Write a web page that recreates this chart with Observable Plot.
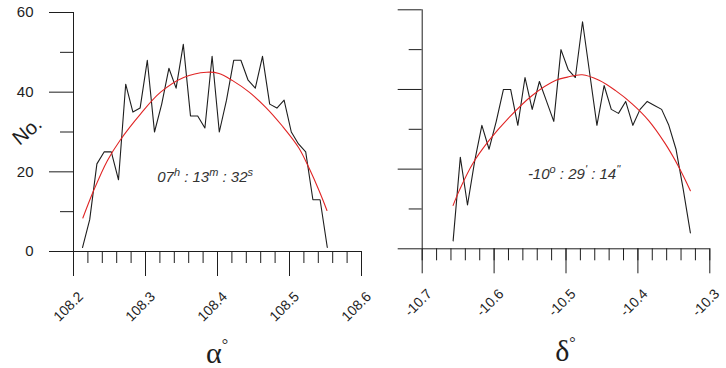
<!DOCTYPE html>
<html>
<head>
<meta charset="utf-8">
<script src="https://cdn.jsdelivr.net/npm/d3@7"></script>
<script src="https://cdn.jsdelivr.net/npm/@observablehq/plot@0.6"></script>
<style>
html, body { margin: 0; padding: 0; background: #fff; }
#chart { position: relative; width: 726px; height: 368px; overflow: hidden; font-family: "Liberation Sans", Arial, sans-serif; }
#chart svg { position: absolute; top: 0; overflow: visible; }
</style>
</head>
<body>
<div id="chart"></div>
<script>
// ---- Right ascension panel (alpha) ----
const raX = [108.2125, 108.2225, 108.2325, 108.2425, 108.2525, 108.2625, 108.2725, 108.2825, 108.2925, 108.3025,
             108.3125, 108.3225, 108.3325, 108.3425, 108.3525, 108.3625, 108.3725, 108.3825, 108.3925, 108.4025,
             108.4125, 108.4225, 108.4325, 108.4425, 108.4525, 108.4625, 108.4725, 108.4825, 108.4925, 108.5025,
             108.5125, 108.5225, 108.5325, 108.5425, 108.5525];
const raCounts = [1, 8, 22, 25, 25, 18, 42, 35, 36, 48,
                  30, 37, 46, 41, 52, 34, 34, 31, 49, 30,
                  38, 48, 48, 43, 41, 49, 37, 36, 38, 30,
                  27, 25, 13, 13, 1];
const raFitX = [108.213, 108.228, 108.247, 108.265, 108.293, 108.321, 108.353, 108.385, 108.402,
                108.421, 108.444, 108.467, 108.490, 108.513, 108.527, 108.541, 108.552];
const raFitY = [8.4, 15.3, 22.8, 28.0, 34.5, 40.0, 43.7, 45.0, 44.7,
                42.9, 40.0, 36.2, 31.5, 26.0, 21.0, 15.3, 10.3];
const raMajor = [108.2, 108.3, 108.4, 108.5, 108.6];
const raMinor = [108.2, 108.22, 108.24, 108.26, 108.28, 108.3, 108.32, 108.34, 108.36, 108.38, 108.4,
                 108.42, 108.44, 108.46, 108.48, 108.5, 108.52, 108.54, 108.56, 108.58, 108.6];
const raTickLabels = ["108.2", "108.3", "108.4", "108.5", "108.6"];

// ---- Declination panel (delta) ----
const decX = [-10.657, -10.647, -10.637, -10.627, -10.617, -10.607, -10.597, -10.587, -10.577, -10.567,
              -10.557, -10.547, -10.537, -10.527, -10.517, -10.507, -10.497, -10.487, -10.477, -10.467,
              -10.457, -10.447, -10.437, -10.427, -10.417, -10.407, -10.397, -10.387, -10.377, -10.367,
              -10.357, -10.347, -10.337, -10.327];
const decCounts = [2, 23, 11, 22, 31, 25, 32, 40, 40, 31,
                   43, 35, 42, 37, 32, 50, 45, 43, 57, 44,
                   31, 41, 35, 34, 37, 31, 35, 37, 36, 35,
                   31, 25, 15, 4];
const decFitX = [-10.657, -10.6485, -10.630, -10.607, -10.579, -10.547, -10.514, -10.498,
                 -10.4775, -10.454, -10.431, -10.408, -10.385, -10.362, -10.343, -10.327];
const decFitY = [10.9, 14.6, 21.3, 27.2, 33.0, 38.5, 42.3, 43.1,
                 43.7, 42.3, 39.7, 36.4, 32.2, 26.4, 20.5, 14.6];
const decMajor = [-10.7, -10.6, -10.5, -10.4, -10.3];
const decMinor = [-10.7, -10.68, -10.66, -10.64, -10.62, -10.6, -10.58, -10.56, -10.54, -10.52, -10.5,
                  -10.48, -10.46, -10.44, -10.42, -10.4, -10.38, -10.36, -10.34, -10.32, -10.3];
const decTickLabels = ["-10.7", "-10.6", "-10.5", "-10.4", "-10.3"];

// ---- shared y axis ----
const yMajor = [0, 20, 40, 60];
const yMinor = [10, 30, 50];
const yTickLabels = ["0", "20", "40", "60"];

// annotations
const raNote = {x: 108.3835, y: 17.3, parts: [["07", 0], ["h", 1], [" : 13", 0], ["m", 1], [" : 32", 0], ["s", 1]]};
const decNote = {x: -10.488, y: 17.3, parts: [["-10", 0], ["o", 1], [" : 29", 0], ["'", 1], [" : 14", 0], ["''", 1]]};

const root = document.getElementById("chart");
const ink = "#1e1e1e";

function panel(o) {
  const chart = Plot.plot({
    width: 363, height: 368,
    marginLeft: o.ml, marginRight: o.mr, marginTop: o.mt, marginBottom: o.mb,
    x: {domain: o.domain},
    y: {domain: [0, 60]},
    style: {fontFamily: "'Liberation Sans', Arial, sans-serif", color: ink, background: "transparent", overflow: "visible"},
    marks: [
      Plot.ruleX([o.domain[0]], {stroke: ink}),
      Plot.ruleY([0], {stroke: ink}),
      Plot.axisY({ticks: yMinor, tickSize: 13, fill: "none", label: null, stroke: ink}),
      Plot.axisY({ticks: yMajor, tickSize: 24, fill: "none", label: null, stroke: ink}),
      Plot.axisX({ticks: o.minor, tickSize: 12, fill: "none", label: null, stroke: ink}),
      Plot.axisX({ticks: o.major, tickSize: 25, fill: "none", label: null, stroke: ink}),
      o.yLabels ? Plot.text(yMajor, {y: d => d, text: (d, i) => yTickLabels[i], frameAnchor: "left",
                                     textAnchor: "end", dx: -40, fontSize: 15, fill: ink}) : null,
      Plot.text(o.major, {x: d => d, text: (d, i) => o.labels[i], frameAnchor: "bottom", textAnchor: "end",
                          lineAnchor: "bottom", rotate: -45, dx: 10.5, dy: 46, fontSize: 14, fill: ink}),
      Plot.line(o.counts, {x: (d, i) => o.xs[i], y: d => d, stroke: ink, strokeWidth: 1.1}),
      Plot.line(o.fitY, {x: (d, i) => o.fitX[i], y: d => d, stroke: "#e02424", strokeWidth: 1.1, curve: "catmull-rom"})
    ]
  });
  chart.style.left = o.left + "px";
  root.appendChild(chart);

  const svg = d3.select(chart);
  const sx = chart.scale("x"), sy = chart.scale("y");

  // italic annotation with superscripts
  const t = svg.append("text")
    .attr("x", sx.apply(o.note.x)).attr("y", sy.apply(o.note.y))
    .attr("text-anchor", "middle").attr("font-style", "italic")
    .attr("font-family", "'Liberation Sans', Arial, sans-serif")
    .attr("font-size", 15).attr("fill", "#333");
  let raised = false;
  o.note.parts.forEach(([s, sup]) => {
    const ts = t.append("tspan").text(s);
    if (sup && !raised) { ts.attr("dy", -6).attr("font-size", 11); raised = true; }
    else if (sup) { ts.attr("font-size", 11); }
    else if (!sup && raised) { ts.attr("dy", 6); raised = false; }
  });

  // axis title (greek letter with degree)
  const cx = (sx.range[0] + sx.range[1]) / 2;
  const lab = svg.append("text")
    .attr("x", cx).attr("y", o.titleY)
    .attr("text-anchor", "middle")
    .attr("font-family", "'Liberation Serif', 'DejaVu Serif', serif")
    .attr("font-size", 30).attr("fill", ink);
  lab.append("tspan").text(o.title);
  lab.append("tspan").attr("dy", -13).attr("font-size", 16).text("°");

  if (o.yTitle) {
    svg.append("text")
      .attr("transform", "translate(28,132) rotate(-40)")
      .attr("text-anchor", "middle").attr("dominant-baseline", "middle")
      .attr("font-family", "'Liberation Sans', Arial, sans-serif")
      .attr("font-size", 20).attr("fill", ink)
      .text("No.");
  }
  return chart;
}

panel({left: 0, ml: 73, mr: 2, mt: 12, mb: 117, domain: [108.2, 108.6],
       major: raMajor, minor: raMinor, labels: raTickLabels,
       xs: raX, counts: raCounts, fitX: raFitX, fitY: raFitY,
       note: raNote, title: "α", titleY: 363, yLabels: true, yTitle: true});

panel({left: 363, ml: 58.7, mr: 16.7, mt: 9.3, mb: 119.7, domain: [-10.7, -10.3],
       major: decMajor, minor: decMinor, labels: decTickLabels,
       xs: decX, counts: decCounts, fitX: decFitX, fitY: decFitY,
       note: decNote, title: "δ", titleY: 361, yLabels: false, yTitle: false});
</script>
</body>
</html>
